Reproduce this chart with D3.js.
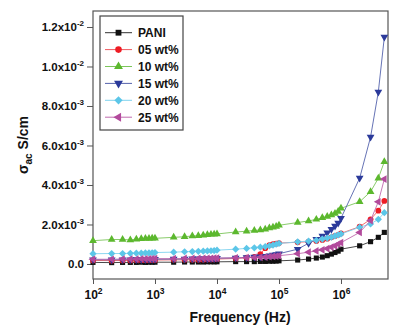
<!DOCTYPE html>
<html lang="en">
<head>
<meta charset="UTF-8" />
<title>AC conductivity vs frequency</title>
<script src="https://d3js.org/d3.v7.min.js"></script>
<style>
  body { margin: 0; background: #fff; }
  svg { display: block; font-family: "Liberation Sans", Arial, sans-serif; font-weight: bold; }
</style>
</head>
<body>
<script>
// frequencies (Hz): 100..900, 1k..9k, 10k..90k, 100k..900k, 1M..5M
const freq = [100,200,300,400,500,600,700,800,900,
  1000,2000,3000,4000,5000,6000,7000,8000,9000,
  10000,20000,30000,40000,50000,60000,70000,80000,90000,
  100000,200000,300000,400000,500000,600000,700000,800000,900000,
  1000000,2000000,3000000,4000000,5000000];

const pani = [0.00008,0.00007,0.00008,0.00008,0.00008,0.00009,0.00008,0.00009,0.00009,
  0.00009,0.00009,0.00010,0.00010,0.00010,0.00010,0.00011,0.00011,0.00011,
  0.00011,0.00012,0.00012,0.00012,0.00013,0.00013,0.00014,0.00014,0.00015,
  0.00016,0.00020,0.00025,0.00030,0.00035,0.00042,0.00050,0.00058,0.00065,
  0.00075,0.00092,0.00113,0.00135,0.00160];
const wt05 = [0.00018,0.00017,0.00018,0.00018,0.00019,0.00019,0.00019,0.00020,0.00020,
  0.00020,0.00021,0.00021,0.00022,0.00022,0.00022,0.00023,0.00023,0.00024,
  0.00025,0.00028,0.00032,0.00036,0.00050,0.00080,0.00095,0.00100,0.00103,
  0.00106,0.00110,0.00113,0.00117,0.00122,0.00128,0.00135,0.00142,0.00148,
  0.00155,0.00189,0.00226,0.00270,0.00319];
const wt10 = [0.00118,0.00124,0.00124,0.00122,0.00125,0.00128,0.00129,0.00129,0.00130,
  0.00130,0.00135,0.00138,0.00142,0.00143,0.00146,0.00148,0.00150,0.00151,
  0.00152,0.00162,0.00166,0.00170,0.00172,0.00176,0.00182,0.00186,0.00190,
  0.00196,0.00210,0.00218,0.00226,0.00234,0.00240,0.00248,0.00256,0.00266,
  0.00282,0.00315,0.00366,0.00434,0.00518];
const wt15 = [0.00022,0.00021,0.00022,0.00022,0.00023,0.00023,0.00023,0.00024,0.00024,
  0.00024,0.00025,0.00025,0.00026,0.00026,0.00027,0.00027,0.00028,0.00028,
  0.00029,0.00031,0.00033,0.00035,0.00037,0.00039,0.00042,0.00045,0.00048,
  0.00052,0.00075,0.00105,0.00125,0.00142,0.00158,0.00176,0.00192,0.00208,
  0.00232,0.00435,0.00643,0.00871,0.01149];
const wt20 = [0.00052,0.00053,0.00053,0.00054,0.00055,0.00055,0.00056,0.00056,0.00057,
  0.00058,0.00060,0.00062,0.00063,0.00064,0.00065,0.00066,0.00067,0.00068,
  0.00070,0.00075,0.00079,0.00082,0.00085,0.00088,0.00092,0.00096,0.00100,
  0.00104,0.00112,0.00116,0.00120,0.00126,0.00131,0.00136,0.00142,0.00147,
  0.00152,0.00186,0.00203,0.00226,0.00260];
const wt25 = [0.00024,0.00024,0.00025,0.00025,0.00025,0.00026,0.00026,0.00026,0.00027,
  0.00027,0.00027,0.00028,0.00028,0.00028,0.00029,0.00029,0.00029,0.00030,
  0.00030,0.00031,0.00032,0.00033,0.00034,0.00035,0.00037,0.00039,0.00040,
  0.00042,0.00052,0.00060,0.00066,0.00072,0.00078,0.00085,0.00092,0.00100,
  0.00108,0.00160,0.00220,0.00315,0.00430];

const names = ["PANI","05 wt%","10 wt%","15 wt%","20 wt%","25 wt%"];
const values = [pani, wt05, wt10, wt15, wt20, wt25];
const colors = ["#111111","#ee1c24","#5cb82e","#2b3a9a","#5cc6e8","#b24a9c"];
const lineColors = ["#333333","#f05a5f","#7cc55a","#5563ad","#7fd2ee","#c06aae"];
const shapes = ["square","circle","up","down","diamond","left"];

const xTicks = [1e2,1e3,1e4,1e5,1e6];
const yTicks = [0,0.002,0.004,0.006,0.008,0.010,0.012];

const W = 400, H = 334;
const m = {left: 93, right: 12, top: 11, bottom: 55};

const svg = d3.select("body").append("svg").attr("width", W).attr("height", H);

const x = d3.scaleLog().domain([100, 5.73e6]).range([m.left, W - m.right]);
const y = d3.scaleLinear().domain([-0.00076, 0.01281]).range([H - m.bottom, m.top]);

function symbolPath(shape, size) {
  let type = d3.symbolSquare, rot = 0;
  if (shape == "circle") type = d3.symbolCircle;
  else if (shape == "up") type = d3.symbolTriangle;
  else if (shape == "down") { type = d3.symbolTriangle; rot = 180; }
  else if (shape == "left") { type = d3.symbolTriangle; rot = -90; }
  else if (shape == "diamond") { type = d3.symbolSquare; rot = 45; }
  return {d: d3.symbol().type(type).size(size)(), rot: rot};
}

// axes
const yAxis = d3.axisLeft(y).tickValues(yTicks).tickSize(6).tickSizeOuter(0).tickPadding(3);
const xAxis = d3.axisBottom(x).tickValues(xTicks).tickSize(5).tickSizeOuter(0).tickPadding(6);

const gy = svg.append("g").attr("transform", `translate(${m.left},0)`).call(yAxis);
const gx = svg.append("g").attr("transform", `translate(0,${H - m.bottom})`).call(xAxis);
[gy, gx].forEach(g => {
  g.select(".domain").remove();
  g.selectAll(".tick line").attr("stroke", "#555").attr("stroke-width", 1);
  g.selectAll(".tick text").attr("fill", "#111").style("font-weight", "bold");
});

gy.selectAll(".tick text").each(function(d) {
  const t = d3.select(this).text("").style("font-size", "11.5px");
  if (d == 0) { t.text("0.0"); return; }
  const e = Math.floor(Math.log10(d) + 1e-9);
  const mant = (d / Math.pow(10, e)).toFixed(1);
  t.append("tspan").text(mant + "x10");
  t.append("tspan").attr("dy", -5).style("font-size", "8px").text("-" + Math.abs(e));
});

gx.selectAll(".tick text").each(function(d) {
  const t = d3.select(this).text("").style("font-size", "12px");
  t.append("tspan").text("10");
  t.append("tspan").attr("dy", -5).style("font-size", "8.5px").text(Math.round(Math.log10(d)));
});

// plot frame
svg.append("rect")
  .attr("x", m.left).attr("y", m.top)
  .attr("width", W - m.right - m.left).attr("height", H - m.bottom - m.top)
  .attr("fill", "none").attr("stroke", "#555").attr("stroke-width", 1.2);

// series
const line = d3.line().x((d, i) => x(freq[i])).y(d => y(d));
values.forEach((vals, k) => {
  const g = svg.append("g");
  g.append("path").datum(vals)
    .attr("d", line).attr("fill", "none")
    .attr("stroke", lineColors[k]).attr("stroke-width", 0.9);
  const s = symbolPath(shapes[k], 26);
  g.selectAll("path.pt").data(vals).enter().append("path")
    .attr("class", "pt")
    .attr("d", s.d)
    .attr("transform", (d, i) => `translate(${x(freq[i])},${y(d)}) rotate(${s.rot})`)
    .attr("fill", colors[k]);
});

// legend
const leg = svg.append("g");
leg.append("rect").attr("x", 100).attr("y", 16).attr("width", 83).attr("height", 114)
  .attr("fill", "#fff").attr("stroke", "#444").attr("stroke-width", 1.2);
names.forEach((n, k) => {
  const ly = 32.7 + k * 16.9;
  leg.append("line").attr("x1", 105).attr("x2", 132).attr("y1", ly).attr("y2", ly)
    .attr("stroke", lineColors[k]).attr("stroke-width", 1);
  const s = symbolPath(shapes[k], 34);
  leg.append("path").attr("d", s.d)
    .attr("transform", `translate(118.5,${ly}) rotate(${s.rot})`).attr("fill", colors[k]);
  leg.append("text").attr("x", 138).attr("y", ly + 4.3)
    .style("font-size", "12px").attr("fill", "#111").text(n);
});

// axis titles
svg.append("text").attr("x", 240).attr("y", 322).attr("text-anchor", "middle")
  .style("font-size", "14px").attr("fill", "#111").text("Frequency (Hz)");

const yt = svg.append("text").attr("transform", "translate(28,145) rotate(-90)")
  .attr("text-anchor", "middle").style("font-size", "14px").attr("fill", "#111");
yt.append("tspan").text("σ");
yt.append("tspan").attr("dy", 4).style("font-size", "10px").text("ac");
yt.append("tspan").attr("dy", -4).text(" S/cm");
</script>
</body>
</html>
